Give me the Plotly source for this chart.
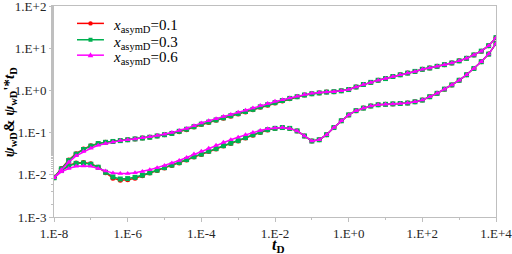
import plotly.graph_objects as go

# log10(tD) sampling: 5 points per decade from 1e-8 to 1e4
log_td = [-8.0, -7.8, -7.6, -7.4, -7.2, -7.0, -6.8, -6.6, -6.4, -6.2,
          -6.0, -5.8, -5.6, -5.4, -5.2, -5.0, -4.8, -4.6, -4.4, -4.2,
          -4.0, -3.8, -3.6, -3.4, -3.2, -3.0, -2.8, -2.6, -2.4, -2.2,
          -2.0, -1.8, -1.6, -1.4, -1.2, -1.0, -0.8, -0.6, -0.4, -0.2,
          0.0, 0.2, 0.4, 0.6, 0.8, 1.0, 1.2, 1.4, 1.6, 1.8,
          2.0, 2.2, 2.4, 2.6, 2.8, 3.0, 3.2, 3.4, 3.6, 3.8, 4.0]

# log10 of psi_wD (upper curves)
p_upper_01 = [-2.06, -1.85, -1.65, -1.50, -1.39, -1.31, -1.26, -1.23, -1.21, -1.19,
              -1.17, -1.15, -1.13, -1.11, -1.08, -1.05, -1.02, -0.98, -0.93, -0.87,
              -0.81, -0.76, -0.71, -0.66, -0.61, -0.56, -0.51, -0.46, -0.40, -0.35,
              -0.30, -0.25, -0.20, -0.15, -0.11, -0.08, -0.06, -0.04, -0.03, -0.01,
              0.02, 0.08, 0.14, 0.19, 0.24, 0.28, 0.33, 0.37, 0.41, 0.45,
              0.50, 0.53, 0.57, 0.61, 0.65, 0.70, 0.76, 0.84, 0.93, 1.06, 1.25]
p_upper_03 = [-2.06, -1.86, -1.66, -1.51, -1.40, -1.32, -1.26, -1.23, -1.21, -1.19,
              -1.17, -1.15, -1.13, -1.11, -1.08, -1.05, -1.02, -0.97, -0.92, -0.86,
              -0.80, -0.75, -0.70, -0.65, -0.60, -0.55, -0.50, -0.45, -0.39, -0.34,
              -0.29, -0.24, -0.19, -0.15, -0.11, -0.08, -0.06, -0.04, -0.03, -0.01,
              0.02, 0.08, 0.14, 0.19, 0.24, 0.28, 0.33, 0.37, 0.41, 0.45,
              0.50, 0.53, 0.57, 0.61, 0.65, 0.70, 0.76, 0.84, 0.93, 1.06, 1.25]
p_upper_06 = [-2.07, -1.88, -1.70, -1.55, -1.45, -1.37, -1.30, -1.26, -1.22, -1.19,
              -1.17, -1.15, -1.12, -1.10, -1.07, -1.04, -1.00, -0.95, -0.90, -0.84,
              -0.77, -0.72, -0.67, -0.62, -0.57, -0.52, -0.47, -0.42, -0.36, -0.31,
              -0.26, -0.22, -0.18, -0.14, -0.10, -0.07, -0.05, -0.04, -0.03, -0.01,
              0.02, 0.08, 0.14, 0.19, 0.24, 0.28, 0.33, 0.37, 0.41, 0.45,
              0.50, 0.53, 0.57, 0.61, 0.65, 0.70, 0.76, 0.84, 0.93, 1.06, 1.25]

# log10 of psi_wD' * tD (lower curves)
d_lower_01 = [-2.07, -1.90, -1.78, -1.72, -1.71, -1.74, -1.82, -1.95, -2.08, -2.13,
              -2.12, -2.08, -2.02, -1.96, -1.90, -1.84, -1.78, -1.72, -1.65, -1.58,
              -1.52, -1.45, -1.39, -1.32, -1.26, -1.20, -1.13, -1.06, -1.00, -0.94,
              -0.90, -0.88, -0.90, -0.96, -1.08, -1.20, -1.17, -1.05, -0.88, -0.72,
              -0.58, -0.48, -0.42, -0.37, -0.34, -0.33, -0.32, -0.31, -0.30, -0.27,
              -0.23, -0.15, -0.07, 0.03, 0.13, 0.24, 0.37, 0.52, 0.68, 0.86, 1.11]
d_lower_03 = [-2.07, -1.90, -1.79, -1.73, -1.72, -1.75, -1.82, -1.94, -2.05, -2.10,
              -2.09, -2.06, -2.01, -1.95, -1.89, -1.83, -1.77, -1.71, -1.64, -1.57,
              -1.51, -1.44, -1.38, -1.31, -1.25, -1.19, -1.12, -1.05, -0.99, -0.93,
              -0.90, -0.88, -0.90, -0.96, -1.08, -1.20, -1.17, -1.05, -0.88, -0.72,
              -0.58, -0.48, -0.42, -0.37, -0.34, -0.33, -0.32, -0.31, -0.30, -0.27,
              -0.23, -0.15, -0.07, 0.03, 0.13, 0.24, 0.37, 0.52, 0.68, 0.86, 1.11]
d_lower_06 = [-2.07, -1.93, -1.85, -1.80, -1.79, -1.80, -1.85, -1.91, -1.96, -1.97,
              -1.97, -1.95, -1.92, -1.88, -1.83, -1.78, -1.72, -1.66, -1.59, -1.51,
              -1.44, -1.37, -1.30, -1.23, -1.17, -1.11, -1.05, -1.00, -0.95, -0.91,
              -0.89, -0.88, -0.90, -0.96, -1.08, -1.20, -1.17, -1.05, -0.88, -0.72,
              -0.58, -0.48, -0.42, -0.37, -0.34, -0.33, -0.32, -0.31, -0.30, -0.27,
              -0.23, -0.15, -0.07, 0.03, 0.13, 0.24, 0.37, 0.52, 0.68, 0.86, 1.11]

series_names = ["<i>x</i><sub>asymD</sub>=0.1", "<i>x</i><sub>asymD</sub>=0.3", "<i>x</i><sub>asymD</sub>=0.6"]
series_colors = ["#ff0000", "#00b050", "#ff00ff"]
series_symbols = ["circle", "square", "triangle-up"]
upper_sets = [p_upper_01, p_upper_03, p_upper_06]
lower_sets = [d_lower_01, d_lower_03, d_lower_06]

x_tickvals = [1e-8, 1e-6, 1e-4, 1e-2, 1e0, 1e2, 1e4]
x_ticktext = ["1.E-8", "1.E-6", "1.E-4", "1.E-2", "1.E+0", "1.E+2", "1.E+4"]
y_tickvals = [1e-3, 1e-2, 1e-1, 1e0, 1e1, 1e2]
y_ticktext = ["1.E-3", "1.E-2", "1.E-1", "1.E+0", "1.E+1", "1.E+2"]

SERIF = "Liberation Serif"

td = [10 ** v for v in log_td]

fig = go.Figure()
for name, color, sym, up, lo in zip(series_names, series_colors, series_symbols, upper_sets, lower_sets):
    xs = td + [None] + td
    ys = [10 ** v for v in up] + [None] + [10 ** v for v in lo]
    fig.add_trace(go.Scatter(
        x=xs, y=ys, name=name, mode="lines+markers", showlegend=False,
        line=dict(color=color, width=1.5),
        marker=dict(color=color, symbol=sym, size=5),
        connectgaps=False,
    ))

# custom legend (compact rows like the reference)
leg_rows = [0.9176, 0.84, 0.767]
for name, color, sym, yrow in zip(series_names, series_colors, series_symbols, leg_rows):
    fig.add_shape(type="line", xref="paper", yref="paper", x0=0.052, x1=0.113, y0=yrow, y1=yrow,
                  line=dict(color=color, width=1.5))
    if sym == "circle":
        fig.add_shape(type="circle", xref="paper", yref="paper", xsizemode="pixel", ysizemode="pixel",
                      xanchor=0.0826, yanchor=yrow, x0=-2.2, x1=2.2, y0=-2.2, y1=2.2,
                      fillcolor=color, line=dict(color=color, width=0))
    elif sym == "square":
        fig.add_shape(type="rect", xref="paper", yref="paper", xsizemode="pixel", ysizemode="pixel",
                      xanchor=0.0826, yanchor=yrow, x0=-2, x1=2, y0=-2, y1=2,
                      fillcolor=color, line=dict(color=color, width=0))
    else:
        fig.add_shape(type="path", xref="paper", yref="paper", xsizemode="pixel", ysizemode="pixel",
                      xanchor=0.0826, yanchor=yrow, path="M-2.8,-2 L2.8,-2 L0,2.8 Z",
                      fillcolor=color, line=dict(color=color, width=0))
    fig.add_annotation(text=name, xref="paper", yref="paper", x=0.129, y=yrow - 0.014,
                       xanchor="left", yanchor="middle", showarrow=False,
                       font=dict(family=SERIF, size=15, color="#000000"))

axis_common = dict(
    type="log", showgrid=False, zeroline=False, automargin=False,
    showline=True, linecolor="#bfbfbf", linewidth=1, mirror=True,
    ticks="outside", ticklen=4, tickcolor="#bfbfbf",
    ticklabeloverflow="allow",
    tickfont=dict(family=SERIF, size=13, color="#262626"),
    minor=dict(ticks="outside", ticklen=2, tickcolor="#bfbfbf", showgrid=False),
)

fig.update_xaxes(range=[-8, 4], tickvals=x_tickvals, ticktext=x_ticktext, **axis_common)
fig.update_yaxes(range=[-3, 2], tickvals=y_tickvals, ticktext=y_ticktext, **axis_common)

fig.add_annotation(
    text="<b><i>t</i></b><sub><b>D</b></sub>", xref="paper", yref="paper",
    x=0.509, y=-0.137, xanchor="center", yanchor="middle", showarrow=False,
    font=dict(family=SERIF, size=16, color="#000000"),
)
fig.add_annotation(
    text="<b><i>ψ</i></b><sub><b>wD</b></sub><b>& </b><b><i>ψ</i></b><sub><b>wD</b></sub><b>'*</b><b><i>t</i></b><sub><b>D</b></sub>",
    xref="paper", yref="paper", x=-0.1, y=0.5, xanchor="center", yanchor="middle",
    textangle=-90, showarrow=False,
    font=dict(family=SERIF, size=15, color="#000000"),
)

fig.update_layout(
    width=512, height=254,
    margin=dict(l=54, r=16, t=6, b=37),
    paper_bgcolor="white", plot_bgcolor="white",
    showlegend=False,
)

fig.write_html("out.html", config={"displayModeBar": False},
               post_script="document.body.style.margin='0px';document.body.style.padding='0px';")
